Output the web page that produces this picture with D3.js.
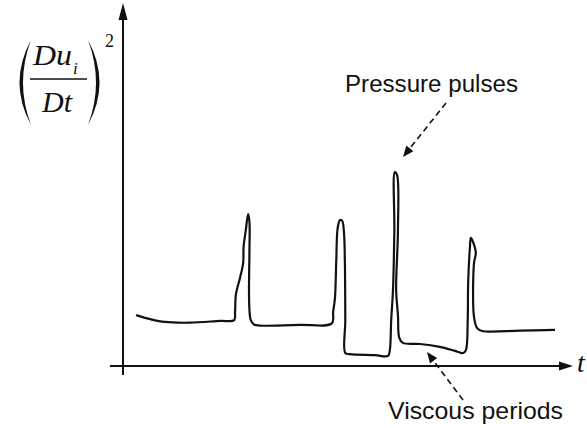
<!DOCTYPE html>
<html>
<head>
<meta charset="utf-8">
<script src="https://cdn.jsdelivr.net/npm/d3@7"></script>
<style>
  html, body { margin: 0; padding: 0; background: #fff; }
  .note { font-family: "Liberation Sans", Arial, sans-serif; fill: #111; }
  .math { font-family: "Liberation Serif", "Times New Roman", serif; font-style: italic; fill: #111; }
</style>
</head>
<body>
<div id="chart"></div>
<script>
// hand drawn signal: time (arbitrary units 0-100) and (Du/Dt)^2 value (0-100)
var sigT = [2.9, 6.0, 9.3, 14.9, 21.6, 24.7, 24.9, 25.1, 26.0, 26.7, 26.8, 27.3, 27.8, 28.1, 28.1, 28.0, 28.1, 28.4, 29.1, 30.4,
            39.3, 46.4, 46.7, 47.1, 47.4, 47.7, 48.2, 48.7, 49.1, 49.3, 49.4, 49.4, 50.4, 56.0, 58.9, 59.3, 59.6, 60.0, 60.3, 60.4,
            60.9, 61.1, 60.7, 61.1, 61.4, 62.2, 66.0, 70.4, 73.8, 75.6, 76.2, 76.6, 76.7, 77.1, 77.3, 77.8, 78.4, 78.0, 78.0, 78.7,
            79.8, 88.2, 96.0];
var sigV = [14.1, 13.0, 12.2, 12.0, 12.5, 12.7, 15.0, 19.9, 24.4, 28.5, 33.0, 37.7, 42.1, 39.9, 32.1, 21.1, 15.5, 12.7, 11.5, 11.2,
            11.4, 11.8, 15.0, 18.8, 29.4, 38.2, 40.4, 40.2, 37.1, 29.4, 12.7, 3.6, 3.3, 3.0, 2.8, 4.4, 12.7, 21.1, 37.7, 53.7,
            52.9, 37.7, 21.1, 14.1, 7.8, 6.4, 6.1, 5.3, 4.2, 3.6, 4.4, 12.7, 23.0, 33.0, 35.5, 34.3, 31.3, 28.5, 13.6, 10.5,
            9.7, 9.8, 10.0];

var annotations = ["Pressure pulses", "Viscous periods"];

var width = 587;
var height = 428;

var svg = d3.select("#chart")
  .append("svg")
  .attr("width", width)
  .attr("height", height);

var x = d3.scaleLinear().domain([0, 100]).range([123, 573]);
var y = d3.scaleLinear().domain([0, 100]).range([366, 5]);

var data = sigT.map(function(t, i) { return { t: t, v: sigV[i] }; });

// axes (plain lines with filled arrow heads)
svg.append("line")
  .attr("x1", x(-2.9)).attr("y1", y(0))
  .attr("x2", x(97)).attr("y2", y(0))
  .attr("stroke", "#111").attr("stroke-width", 2);

svg.append("line")
  .attr("x1", x(0)).attr("y1", y(-2.5))
  .attr("x2", x(0)).attr("y2", y(96))
  .attr("stroke", "#111").attr("stroke-width", 2);

svg.append("path")
  .attr("d", "M" + x(100) + "," + y(0) + " L" + (x(100) - 14) + "," + (y(0) - 4.5) + " L" + (x(100) - 14) + "," + (y(0) + 4.5) + "Z")
  .attr("fill", "#111");

svg.append("path")
  .attr("d", "M" + x(0) + "," + (y(100) - 2) + " L" + (x(0) - 4.5) + "," + (y(100) + 15) + " L" + (x(0) + 4.5) + "," + (y(100) + 15) + "Z")
  .attr("fill", "#111");

// signal
svg.append("path")
  .datum(data)
  .attr("fill", "none")
  .attr("stroke", "#111")
  .attr("stroke-width", 2.2)
  .attr("stroke-linejoin", "round")
  .attr("d", d3.line()
    .x(function(d) { return x(d.t); })
    .y(function(d) { return y(d.v); })
    .curve(d3.curveCatmullRom.alpha(0.5))
  );

// dashed arrows
function dashedArrow(x1, y1, x2, y2) {
  var ang = Math.atan2(y2 - y1, x2 - x1);
  var len = 11, hw = 4.5;
  var bx = x2 - len * Math.cos(ang), by = y2 - len * Math.sin(ang);
  svg.append("line")
    .attr("x1", x1).attr("y1", y1)
    .attr("x2", bx).attr("y2", by)
    .attr("stroke", "#111")
    .attr("stroke-width", 1.6)
    .attr("stroke-dasharray", "6,4");
  var px = -Math.sin(ang) * hw, py = Math.cos(ang) * hw;
  svg.append("path")
    .attr("d", "M" + x2 + "," + y2 + " L" + (bx + px) + "," + (by + py) + " L" + (bx - px) + "," + (by - py) + "Z")
    .attr("fill", "#111");
}

dashedArrow(446, 103, 403, 157);
dashedArrow(463, 400, 427, 352);

svg.append("text")
  .attr("class", "note")
  .attr("x", 345).attr("y", 92)
  .attr("font-size", 23)
  .attr("textLength", 173)
  .attr("lengthAdjust", "spacingAndGlyphs")
  .text(annotations[0]);

svg.append("text")
  .attr("class", "note")
  .attr("x", 388).attr("y", 419)
  .attr("font-size", 24)
  .attr("textLength", 175)
  .attr("lengthAdjust", "spacingAndGlyphs")
  .text(annotations[1]);

// t label
svg.append("text")
  .attr("class", "math")
  .attr("x", 577).attr("y", 372)
  .attr("font-size", 28)
  .text("t");

// y label (Du_i / Dt)^2
var lab = svg.append("g");

lab.append("path")
  .attr("d", "M31,40 Q8,82.5 31,125 Q15,82.5 31,40Z")
  .attr("fill", "#111");
lab.append("path")
  .attr("d", "M88,40 Q111,82.5 88,125 Q104,82.5 88,40Z")
  .attr("fill", "#111");

lab.append("text")
  .attr("class", "math")
  .attr("x", 33).attr("y", 65)
  .attr("font-size", 30)
  .attr("textLength", 39)
  .attr("lengthAdjust", "spacingAndGlyphs")
  .text("Du");

lab.append("text")
  .attr("class", "math")
  .attr("x", 73).attr("y", 74)
  .attr("font-size", 17)
  .text("i");

lab.append("line")
  .attr("x1", 30).attr("y1", 79)
  .attr("x2", 87).attr("y2", 79)
  .attr("stroke", "#111").attr("stroke-width", 1.5);

lab.append("text")
  .attr("class", "math")
  .attr("x", 42).attr("y", 112)
  .attr("font-size", 30)
  .text("Dt");

lab.append("text")
  .attr("class", "math")
  .attr("x", 105).attr("y", 47)
  .attr("font-size", 18)
  .style("font-style", "normal")
  .text("2");
</script>
</body>
</html>
